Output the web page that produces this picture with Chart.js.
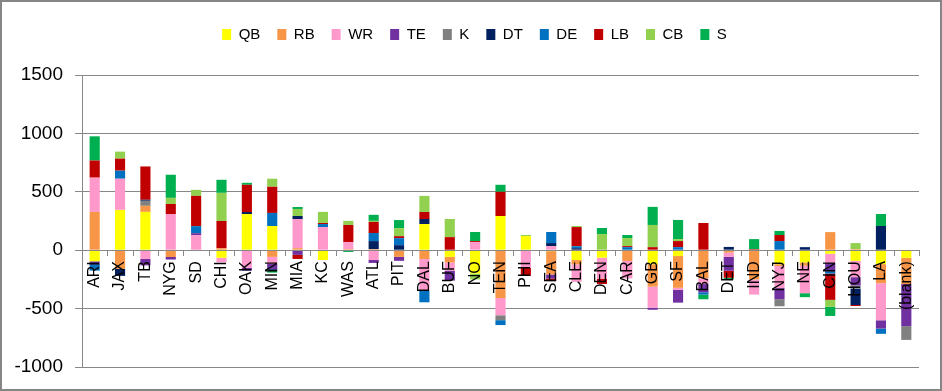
<!DOCTYPE html>
<html>
<head>
<meta charset="utf-8">
<script src="https://cdn.jsdelivr.net/npm/chart.js@4.4.0/dist/chart.umd.min.js"></script>
<style>
  body { margin: 0; background: #fff; }
  #wrap { width: 942px; height: 391px; position: relative; }
</style>
</head>
<body>
<div id="wrap"><canvas id="chartOne" width="942" height="391"></canvas></div>
<script>
// teams along the x axis
const teams = ['ARI', 'JAX', 'TB', 'NYG', 'SD', 'CHI', 'OAK', 'MIN', 'MIA', 'KC', 'WAS', 'ATL', 'PIT', 'DAL', 'BUF', 'NO', 'TEN',
    'PHI', 'SEA', 'CLE', 'DEN', 'CAR', 'GB', 'SF', 'BAL', 'DET', 'IND', 'NYJ', 'NE', 'CIN', 'HOU', 'LA', '(blank)'];

const yTicks = [-1000, -500, 0, 500, 1000, 1500];

// one array per position
const QB = [-95, 345, 328, 0, 0, -65, 310, 207, 0, -84, 0, 0, 0, 224, -57, -200, 293,
    121, -8, -84, -64, 0, -120, -50, 0, 0, 0, -120, -105, -30, -91, -119, -65];
const RB = [328, -160, 52, -58, 0, 17, 0, -57, 17, 0, 9, 9, -57, -76, -48, 0, -410,
    0, -200, -37, 0, -92, -192, -272, -240, -20, -250, -15, -28, 155, 9, -164, -225];
const WR = [293, 267, -75, 310, 129, -40, -150, -60, 250, 198, 60, -84, 0, -270, -70, 69, -147,
    -150, 35, -150, -180, -150, -180, -17, -50, -37, -130, -190, -235, -80, -140, -317, 0];
const TE = [-20, 0, -55, -22, 17, 0, -25, -45, -40, 0, 0, -25, -34, 0, -85, 0, 0,
    0, -35, 0, 0, 0, -18, -110, -70, -119, 0, -95, 0, -70, -70, -71, -360];
const K = [0, 0, 43, 0, 0, 0, 0, 0, 0, 0, 0, 0, 0, 0, 0, 0, -42,
    0, 0, 0, 0, 0, 0, 0, 0, 0, 0, -60, 0, 0, -28, 0, -118];
const DT = [-10, -60, 9, 0, 0, 0, 17, -10, 26, 0, 0, 69, 43, 43, 0, 0, 0,
    0, 26, 17, 0, 0, 0, 0, 0, 28, 0, 0, 26, 0, -140, 207, 0];
const DE = [-50, 69, 0, 0, 60, 0, 0, 112, 0, 26, 0, 69, 60, -100, 0, 0, -42,
    0, 95, 17, 0, 26, 0, 26, -20, 0, 0, 78, 0, -20, 0, -45, 0];
const LB = [147, 103, 285, 86, 259, 233, 233, 224, -35, 9, 147, 95, 17, 60, 112, 9, 207,
    -70, -22, 164, -45, 9, 26, 52, 233, -60, 9, 52, 0, -225, -9, 0, 0];
const CB = [0, 60, 0, 52, 52, 241, 0, 69, 60, 95, 35, 9, 69, 138, 155, -50, 0,
    9, 0, 9, 138, 69, 190, 17, 0, 0, 0, 0, 0, -60, 52, 0, 0];
const S = [207, 0, 0, 198, 0, 112, 17, -20, 17, 0, -15, 52, 69, 0, 0, 78, 60,
    0, 0, 0, 52, 26, 155, 164, -40, -14, 86, 35, -34, -78, 0, 103, 0];

const series = [
    ['QB', QB, '#FFFF00'],
    ['RB', RB, '#F79646'],
    ['WR', WR, '#FF99CC'],
    ['TE', TE, '#7030A0'],
    ['K', K, '#808080'],
    ['DT', DT, '#002060'],
    ['DE', DE, '#0070C0'],
    ['LB', LB, '#C00000'],
    ['CB', CB, '#92D050'],
    ['S', S, '#00B050']
];

// extra room under the legend, and nudge it right a bit
const legendGap = {
    id: 'legendGap',
    afterInit(chart) {
        const lg = chart.legend;
        const fit = lg.fit;
        const draw = lg.draw;
        lg.fit = function () {
            fit.call(this);
            this.height += 23;
        };
        lg.draw = function () {
            this.ctx.save();
            this.ctx.translate(15, 0);
            draw.call(this);
            this.ctx.restore();
        };
    }
};

// category labels sit just under the zero line, like excel does it
const zeroAxis = {
    id: 'zeroAxis',
    afterDatasetsDraw(chart) {
        const c = chart.ctx;
        const xs = chart.scales.x;
        const y0 = chart.scales.y.getPixelForValue(0);
        const left = chart.chartArea.left, right = chart.chartArea.right;
        const step = (right - left) / teams.length;
        c.save();
        c.strokeStyle = '#888';
        c.lineWidth = 1;
        c.beginPath();
        c.moveTo(left, Math.round(y0) + 0.5);
        c.lineTo(right, Math.round(y0) + 0.5);
        for (let i = 0; i <= teams.length; i++) {
            const x = Math.round(left + i * step) + 0.5;
            c.moveTo(x, Math.round(y0));
            c.lineTo(x, Math.round(y0) + 6);
        }
        c.stroke();
        c.fillStyle = '#000';
        c.font = '16px "Liberation Sans", Arial, sans-serif';
        c.textAlign = 'right';
        c.textBaseline = 'middle';
        teams.forEach((t, i) => {
            const x = xs.getPixelForValue(i);
            c.save();
            c.translate(x, y0 + 11);
            c.rotate(-Math.PI / 2);
            c.fillText(t, 0, 0);
            c.restore();
        });
        c.restore();
    }
};

const frame = {
    id: 'frame',
    afterDraw(chart) {
        const c = chart.ctx;
        c.save();
        c.strokeStyle = '#868686';
        c.lineWidth = 2;
        c.strokeRect(1, 1, chart.width - 2, chart.height - 2);
        c.restore();
    }
};

const ctx = document.getElementById('chartOne').getContext('2d');
const chartOne = new Chart(ctx, {
    type: 'bar',
    data: {
        labels: teams,
        datasets: series.map(s => ({
            label: s[0],
            data: s[1],
            backgroundColor: s[2],
            borderWidth: 0,
            barPercentage: 0.4,
            categoryPercentage: 1
        }))
    },
    options: {
        responsive: false,
        animation: false,
        layout: {
            padding: { left: 0, right: 23, top: 10, bottom: 24 }
        },
        plugins: {
            legend: {
                position: 'top',
                labels: {
                    boxWidth: 9,
                    boxHeight: 11,
                    padding: 17,
                    color: '#000',
                    font: { family: '"Liberation Sans", Arial, sans-serif', size: 15 }
                }
            },
            tooltip: { enabled: false }
        },
        scales: {
            x: {
                stacked: true,
                display: false
            },
            y: {
                stacked: true,
                min: -1000,
                max: 1500,
                afterBuildTicks(scale) {
                    scale.ticks = yTicks.map(v => ({ value: v }));
                },
                afterFit(scale) {
                    scale.width = 82;
                },
                grid: {
                    color: '#888',
                    tickLength: 7
                },
                border: { color: '#888' },
                ticks: {
                    padding: 12,
                    color: '#000',
                    font: { family: '"Liberation Sans", Arial, sans-serif', size: 19 },
                    callback: v => String(v)
                }
            }
        }
    },
    plugins: [legendGap, zeroAxis, frame]
});
</script>
</body>
</html>
